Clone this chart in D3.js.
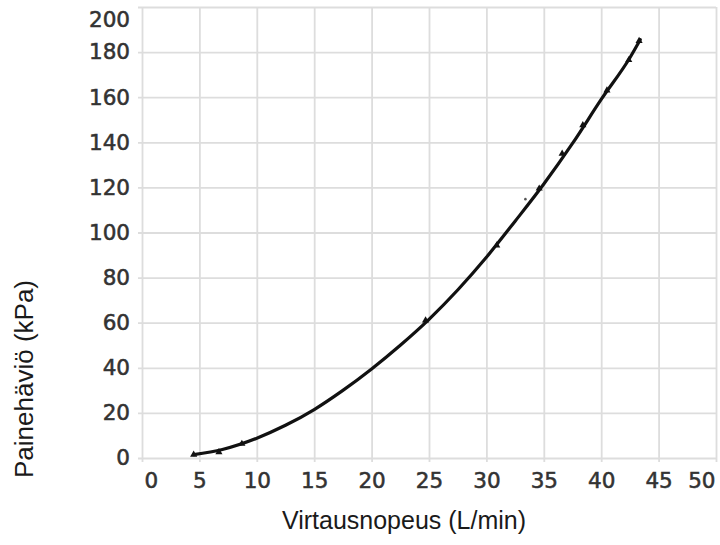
<!DOCTYPE html>
<html>
<head>
<meta charset="utf-8">
<script src="https://cdn.jsdelivr.net/npm/d3@7/dist/d3.min.js"></script>
<style>
  html, body { margin: 0; padding: 0; background: #fff; }
  svg { display: block; }
</style>
</head>
<body>
<svg id="chart" width="720" height="545"></svg>
<script>
// Flow rate (L/min) vs. pressure drop (kPa) along the fitted curve
const flowRate = [4.5, 7, 10, 12.5, 15, 17.5, 20, 22.5, 25, 27.5, 30, 32.5, 35, 37.5, 40, 42.5, 43.4];
const pressureDrop = [1.5, 3.8, 8.8, 14.5, 21.5, 30, 39.5, 50, 61.5, 74.5, 89, 105, 121.5, 139.5, 159, 177.5, 185.5];

// Measured points marked on the curve
const measuredFlow = [4.5, 6.7, 8.7, 24.7, 30.9, 34.6, 36.6, 38.4, 40.5, 42.4, 43.3];
const measuredDrop = [1.5, 2.6, 6.3, 61, 94.3, 119.5, 135, 147.6, 163, 176.5, 185];

// Single stray reading
const strayFlow = [33.4];
const strayDrop = [114.8];

const xTicks = [0, 5, 10, 15, 20, 25, 30, 35, 40, 45, 50];
const yTicks = [0, 20, 40, 60, 80, 100, 120, 140, 160, 180, 200];

const xTitle = "Virtausnopeus (L/min)";
const yTitle = "Painehäviö (kPa)";

const svg = d3.select("#chart");
const margin = { left: 142, top: 7, right: 4, bottom: 87 };
const W = 720, H = 545;
const innerW = W - margin.left - margin.right;
const innerH = H - margin.top - margin.bottom;

const x = d3.scaleLinear().domain([0, 50]).range([0, innerW]);
const y = d3.scaleLinear().domain([0, 200]).range([innerH, 0]);

const g = svg.append("g").attr("transform", `translate(${margin.left},${margin.top})`);

const tickFont = "'DejaVu Sans', sans-serif";
const tickColor = "#333";
const gridColor = "#dddddd";

function styleTickText(sel) {
  sel.attr("font-family", tickFont)
    .attr("font-size", 21.5)
    .attr("fill", tickColor)
    .attr("stroke", tickColor)
    .attr("stroke-width", 0.55);
}

// Horizontal grid + y labels
const yAxis = g.append("g")
  .call(d3.axisLeft(y).tickValues(yTicks).tickSize(-innerW - 4).tickPadding(8).tickFormat(d3.format("d")))
  .attr("transform", "translate(-4,0)");
yAxis.select(".domain").remove();
yAxis.selectAll(".tick line").attr("stroke", gridColor).attr("stroke-width", 1.8).attr("x1", 0).attr("x2", innerW + 4);
yAxis.selectAll(".tick text").call(styleTickText);
// keep the top label inside the frame
yAxis.selectAll(".tick").filter(d => d === 200).select("text").attr("y", 12.5);

// Vertical grid + x labels
const xAxis = g.append("g")
  .attr("transform", `translate(0,${innerH})`)
  .call(d3.axisBottom(x).tickValues(xTicks).tickSize(4).tickPadding(11).tickFormat(d3.format("d")));
xAxis.select(".domain").remove();
xAxis.selectAll(".tick line").attr("stroke", gridColor).attr("stroke-width", 1.8).attr("y1", -innerH).attr("y2", 4);
xAxis.selectAll(".tick text").call(styleTickText);
xAxis.selectAll(".tick").filter(d => d === 0).select("text").attr("text-anchor", "start").attr("x", 2);
xAxis.selectAll(".tick").filter(d => d === 50).select("text").attr("text-anchor", "end").attr("x", -1);

// Fitted curve
const pts = flowRate.map((f, i) => [f, pressureDrop[i]]);
const line = d3.line().x(d => x(d[0])).y(d => y(d[1])).curve(d3.curveMonotoneX);
g.append("path")
  .datum(pts)
  .attr("d", line)
  .attr("fill", "none")
  .attr("stroke", "#111")
  .attr("stroke-width", 3.2)
  .attr("stroke-linecap", "round");

// Measurement markers
const tri = d3.symbol().type(d3.symbolTriangle).size(22);
g.selectAll(".marker")
  .data(measuredFlow.map((f, i) => [f, measuredDrop[i]]))
  .join("path")
  .attr("class", "marker")
  .attr("transform", d => `translate(${x(d[0])},${y(d[1])})`)
  .attr("d", tri)
  .attr("fill", "#111");

g.selectAll(".stray")
  .data(strayFlow.map((f, i) => [f, strayDrop[i]]))
  .join("circle")
  .attr("class", "stray")
  .attr("cx", d => x(d[0]))
  .attr("cy", d => y(d[1]))
  .attr("r", 1.3)
  .attr("fill", "#555");

// Axis titles
svg.append("text")
  .attr("x", 404).attr("y", 529)
  .attr("text-anchor", "middle")
  .attr("font-family", "'Liberation Sans', Arial, sans-serif")
  .attr("font-size", 25)
  .attr("fill", "#1a1a1a")
  .text(xTitle);

svg.append("text")
  .attr("transform", "translate(33,379) rotate(-90)")
  .attr("text-anchor", "middle")
  .attr("font-family", "'Liberation Sans', Arial, sans-serif")
  .attr("font-size", 26)
  .attr("fill", "#1a1a1a")
  .text(yTitle);
</script>
</body>
</html>
